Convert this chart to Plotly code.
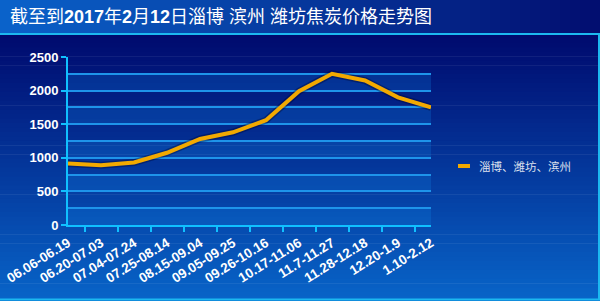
import plotly.graph_objects as go

categories = ["06.06-06.19", "06.20-07.03", "07.04-07.24", "07.25-08.14", "08.15-09.04",
              "09.05-09.25", "09.26-10.16", "10.17-11.06", "11.7-11.27", "11.28-12.18",
              "12.20-1.9", "1.10-2.12"]
prices = [915, 890, 930, 1075, 1280, 1380, 1560, 1990, 2250, 2150, 1900, 1750]
series_name = "淄博、潍坊、滨州"
title_text = "截至到<b>2017</b>年<b>2</b>月<b>12</b>日淄博 滨州 潍坊焦炭价格走势图"
y_ticks = [0, 500, 1000, 1500, 2000, 2500]

W, H = 600, 301
L, R, T, B = 68, 169, 57, 76
PW, PH = W - L - R, H - T - B

def px_x(p):
    return (p - L) / PW

def px_y(p):
    return (H - B - p) / PH

def lerp(c1, c2, t):
    return "rgb(%d,%d,%d)" % tuple(round(a + (b - a) * t) for a, b in zip(c1, c2))

shapes = []
n = 60
top, bot = 34, 301
for i in range(n):
    y0 = top + (bot - top) * i / n
    y1 = top + (bot - top) * (i + 1) / n + 0.6
    shapes.append(dict(type="rect", xref="paper", yref="paper", layer="below",
                       x0=px_x(0), x1=px_x(W), y0=px_y(y0), y1=px_y(y1),
                       line=dict(width=0),
                       fillcolor=lerp((0, 10, 110), (8, 100, 200), i / (n - 1))))
for i in range(n):
    x0 = W * i / n
    x1 = W * (i + 1) / n + 0.6
    shapes.append(dict(type="rect", xref="paper", yref="paper", layer="below",
                       x0=px_x(x0), x1=px_x(x1), y0=px_y(0), y1=px_y(34),
                       line=dict(width=0),
                       fillcolor=lerp((10, 98, 202), (2, 14, 112), i / (n - 1))))
for k in range(0, 2500, 500):
    shapes.append(dict(type="rect", xref="paper", yref="y", layer="below",
                       x0=0, x1=1, y0=k, y1=k + 250, line=dict(width=0),
                       fillcolor="rgba(20,140,235,0.22)"))
shapes.append(dict(type="line", xref="paper", yref="paper", x0=px_x(0), x1=px_x(W),
                   y0=px_y(34), y1=px_y(34), line=dict(color="#1cb8f0", width=2)))
shapes.append(dict(type="line", xref="paper", yref="paper", x0=px_x(0), x1=px_x(W),
                   y0=px_y(299.5), y1=px_y(299.5), line=dict(color="#1cb8f0", width=2)))
shapes.append(dict(type="line", xref="paper", yref="paper", x0=px_x(599), x1=px_x(599),
                   y0=px_y(34), y1=px_y(300), line=dict(color="#1cb8f0", width=2)))
shapes.append(dict(type="line", xref="paper", yref="paper", x0=px_x(458), x1=px_x(470),
                   y0=px_y(166), y1=px_y(166), line=dict(color="#f2a900", width=4)))

fig = go.Figure()
fig.add_trace(go.Scatter(x=categories, y=prices, mode="lines", showlegend=False,
                         hoverinfo="skip", line=dict(color="rgba(0,0,40,0.35)", width=7)))
fig.add_trace(go.Scatter(x=categories, y=prices, mode="lines", name=series_name,
                         line=dict(color="#f2a900", width=4), showlegend=False))

annotations = [
    dict(text=title_text, xref="paper", yref="paper", x=px_x(8), y=px_y(17),
         xanchor="left", yanchor="middle", showarrow=False,
         font=dict(family="Liberation Sans, Noto Sans CJK SC", size=18, color="white")),
    dict(text=series_name, xref="paper", yref="paper", x=px_x(477), y=px_y(166),
         xanchor="left", yanchor="middle", showarrow=False,
         font=dict(family="Noto Sans CJK SC", size=11.5, color="#dde0ee")),
]

fig.update_layout(
    width=W, height=H, margin=dict(l=L, r=R, t=T, b=B),
    paper_bgcolor="rgba(0,0,0,0)", plot_bgcolor="rgba(0,0,0,0)",
    shapes=shapes, annotations=annotations, showlegend=False,
    xaxis=dict(type="category", tickson="boundaries", ticks="outside", ticklen=5,
               tickcolor="#10c0ff", tickwidth=2, showline=True, linecolor="#10c0ff",
               linewidth=2, showgrid=False, tickangle=-32, automargin=False,
               ticklabelstandoff=3,
               tickfont=dict(family="Liberation Sans", size=13.5, color="white", weight="bold")),
    yaxis=dict(range=[0, 2500], tickvals=y_ticks, ticks="outside", ticklen=5,
               tickcolor="#10c0ff", tickwidth=2, showline=True, linecolor="#10c0ff",
               linewidth=2, showgrid=True, gridcolor="#1e94ea", gridwidth=1.5,
               zeroline=False, automargin=False,
               minor=dict(dtick=250, showgrid=True, gridcolor="#1e94ea", gridwidth=1.5),
               tickfont=dict(family="Liberation Sans", size=13, color="white", weight="bold")),
)

fig.write_html("out.html")
